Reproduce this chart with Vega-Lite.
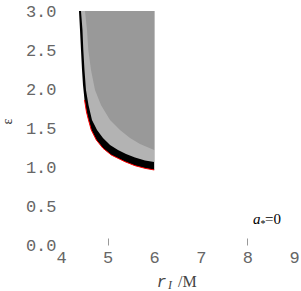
{
  "$schema": "https://vega.github.io/schema/vega-lite/v6.json",
  "autosize": {"type": "none"},
  "padding": {"left": 61, "top": 11, "right": 7, "bottom": 46},
  "width": 233,
  "height": 234,
  "background": "white",
  "config": {"view": {"stroke": null}, "axis": {"labelOverlap": false}},
  "datasets": {
    "outer": [
      {"x": 4.386, "y": 3.0}, {"x": 4.408, "y": 2.756}, {"x": 4.429, "y": 2.5},
      {"x": 4.451, "y": 2.244}, {"x": 4.472, "y": 2.051}, {"x": 4.505, "y": 1.859},
      {"x": 4.547, "y": 1.705}, {"x": 4.59, "y": 1.603}, {"x": 4.65, "y": 1.474},
      {"x": 4.758, "y": 1.346}, {"x": 4.901, "y": 1.24}, {"x": 5.079, "y": 1.154},
      {"x": 5.266, "y": 1.099}, {"x": 5.373, "y": 1.068}, {"x": 5.588, "y": 1.017},
      {"x": 5.803, "y": 0.983}, {"x": 6.0, "y": 0.962}
    ],
    "inner": [
      {"x": 4.429, "y": 3.0}, {"x": 4.461, "y": 2.756}, {"x": 4.479, "y": 2.5},
      {"x": 4.504, "y": 2.244}, {"x": 4.536, "y": 1.987}, {"x": 4.59, "y": 1.795},
      {"x": 4.665, "y": 1.603}, {"x": 4.773, "y": 1.474}, {"x": 4.901, "y": 1.372},
      {"x": 5.052, "y": 1.282}, {"x": 5.223, "y": 1.218}, {"x": 5.395, "y": 1.167},
      {"x": 5.588, "y": 1.122}, {"x": 5.803, "y": 1.083}, {"x": 6.0, "y": 1.064}
    ],
    "speck": [
      {"x": 4.515, "y": 3.0}, {"x": 4.558, "y": 2.756}, {"x": 4.586, "y": 2.5},
      {"x": 4.644, "y": 2.244}, {"x": 4.73, "y": 1.987}, {"x": 4.858, "y": 1.795},
      {"x": 5.052, "y": 1.603}, {"x": 5.266, "y": 1.474}, {"x": 5.481, "y": 1.372},
      {"x": 5.695, "y": 1.295}, {"x": 6.0, "y": 1.218}
    ],
    "ann": [{"x": 8.12, "y": 0.265}],
    "xt": [{"x": 6.054, "y": -0.535}]
  },
  "layer": [
    {
      "data": {"name": "outer"},
      "mark": {"type": "area", "orient": "horizontal", "color": "black"},
      "encoding": {
        "y": {"field": "y", "type": "quantitative",
          "scale": {"domain": [0, 3], "nice": false, "zero": false},
          "axis": {
            "tickCount": 6, "format": ".1f",
            "labelFont": "Liberation Mono", "labelFontSize": 17, "labelColor": "#666",
            "labelPadding": 5, "ticks": false, "domain": false, "grid": false,
            "labelFlush": false, "labelOverlap": false,
            "title": "ε", "titleFont": "Liberation Serif", "titleFontSize": 14,
            "titleFontWeight": "normal", "titleColor": "#333",
            "titleAngle": 270, "titleAlign": "center", "titleBaseline": "middle",
            "titleX": -54, "titleY": 110
          }},
        "x": {"field": "x", "type": "quantitative",
          "scale": {"domain": [4, 9], "nice": false, "zero": false},
          "axis": {
            "values": [4, 5, 6, 7, 8, 9], "format": "d",
            "labelFont": "Liberation Mono", "labelFontSize": 17, "labelColor": "#666",
            "labelPadding": 11, "labelFlush": false, "labelOverlap": false, "domain": false, "grid": false,
            "ticks": true, "tickSize": -7, "tickColor": "#999",
            "tickOpacity": {"condition": {"test": "datum.value == 5 || datum.value == 8", "value": 1}, "value": 0},
            "title": null
          }},
        "x2": {"datum": 6}
      }
    },
    {
      "data": {"name": "inner"},
      "mark": {"type": "area", "orient": "horizontal", "color": "#b3b3b3"},
      "encoding": {
        "y": {"field": "y", "type": "quantitative"},
        "x": {"field": "x", "type": "quantitative"},
        "x2": {"datum": 6}
      }
    },
    {
      "data": {"name": "speck"},
      "mark": {"type": "area", "orient": "horizontal", "color": "#999999"},
      "encoding": {
        "y": {"field": "y", "type": "quantitative"},
        "x": {"field": "x", "type": "quantitative"},
        "x2": {"datum": 6}
      }
    },
    {
      "data": {"name": "outer"},
      "transform": [{"filter": "datum.y <= 1.86"}],
      "mark": {"type": "line", "color": "#ff0000", "strokeWidth": 1},
      "encoding": {
        "y": {"field": "y", "type": "quantitative"},
        "x": {"field": "x", "type": "quantitative"}
      }
    },
    {
      "data": {"name": "ann"},
      "mark": {"type": "text", "text": "a", "align": "left", "baseline": "alphabetic",
        "font": "Liberation Serif", "fontStyle": "italic", "fontSize": 15, "color": "black"},
      "encoding": {
        "y": {"field": "y", "type": "quantitative"},
        "x": {"field": "x", "type": "quantitative"}
      }
    },
    {
      "data": {"name": "ann"},
      "mark": {"type": "text", "text": "*", "align": "left", "baseline": "alphabetic",
        "font": "Liberation Serif", "fontSize": 10, "dx": 7.5, "dy": 3, "color": "black"},
      "encoding": {
        "y": {"field": "y", "type": "quantitative"},
        "x": {"field": "x", "type": "quantitative"}
      }
    },
    {
      "data": {"name": "ann"},
      "mark": {"type": "text", "text": "=0", "align": "left", "baseline": "alphabetic",
        "font": "Liberation Serif", "fontSize": 15, "dx": 12, "color": "black"},
      "encoding": {
        "y": {"field": "y", "type": "quantitative"},
        "x": {"field": "x", "type": "quantitative"}
      }
    },
    {
      "data": {"name": "xt"},
      "mark": {"type": "text", "text": "r", "align": "left", "baseline": "alphabetic",
        "font": "Liberation Mono", "fontStyle": "italic", "fontSize": 16, "color": "#444"},
      "encoding": {
        "y": {"field": "y", "type": "quantitative"},
        "x": {"field": "x", "type": "quantitative"}
      }
    },
    {
      "data": {"name": "xt"},
      "mark": {"type": "text", "text": "I", "align": "left", "baseline": "alphabetic",
        "font": "Liberation Serif", "fontStyle": "italic", "fontSize": 12, "dx": 11.3, "dy": 2, "color": "#444"},
      "encoding": {
        "y": {"field": "y", "type": "quantitative"},
        "x": {"field": "x", "type": "quantitative"}
      }
    },
    {
      "data": {"name": "xt"},
      "mark": {"type": "text", "text": "/M", "align": "left", "baseline": "alphabetic",
        "font": "Liberation Serif", "fontSize": 16, "dx": 21.3, "color": "#444"},
      "encoding": {
        "y": {"field": "y", "type": "quantitative"},
        "x": {"field": "x", "type": "quantitative"}
      }
    }
  ]
}
